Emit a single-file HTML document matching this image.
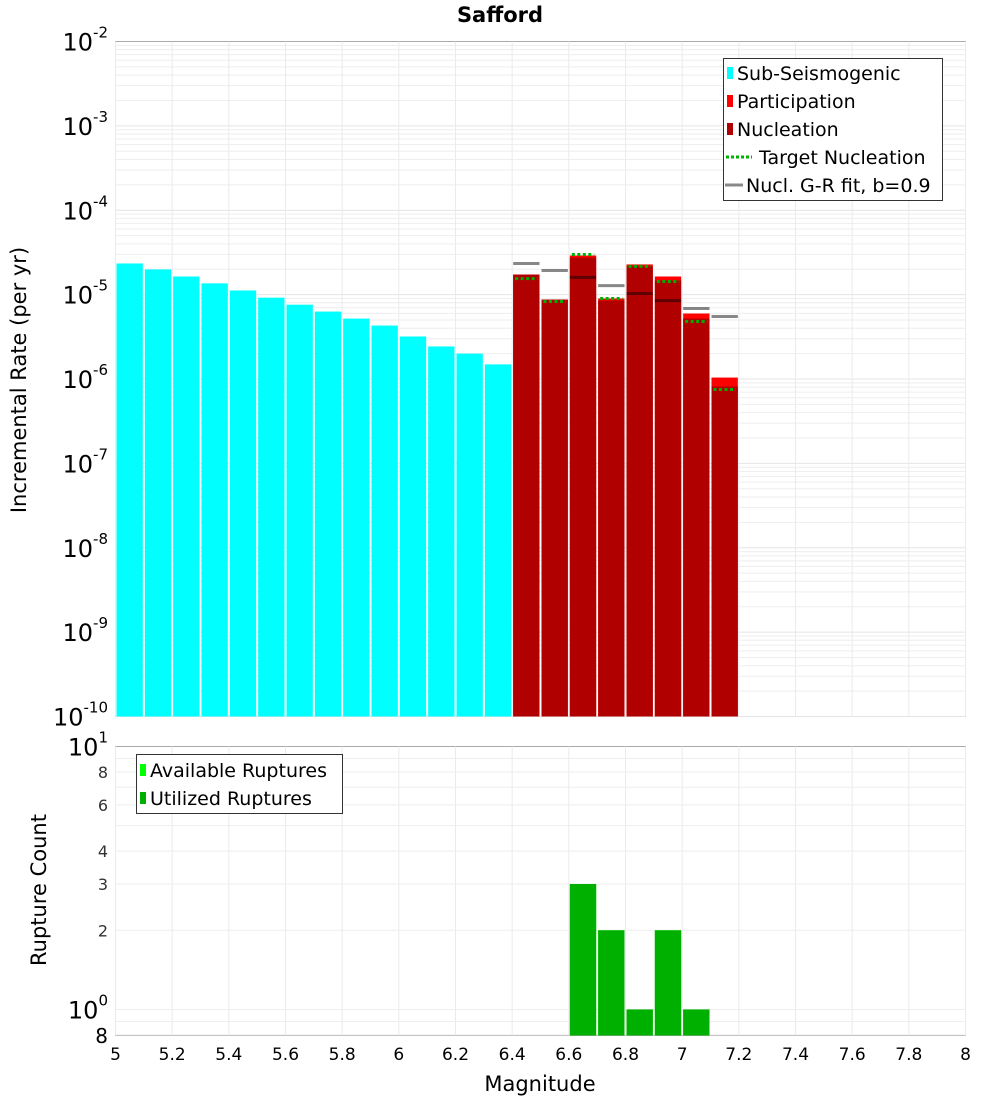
<!DOCTYPE html>
<html><head><meta charset="utf-8"><style>
html,body{margin:0;padding:0;background:#fff;}
svg{display:block;font-family:"DejaVu Sans","Liberation Sans",sans-serif;}
</style></head><body>
<svg id="chart" width="1000" height="1100" viewBox="0 0 1000 1100">
<text x="500" y="22" text-anchor="middle" font-size="21" font-weight="bold">Safford</text>
<text transform="translate(26,380) rotate(-90)" text-anchor="middle" font-size="21">Incremental Rate (per yr)</text>
<text transform="translate(46,890) rotate(-90)" text-anchor="middle" font-size="21">Rupture Count</text>
<text x="540" y="1091" text-anchor="middle" font-size="21">Magnitude</text>
<g id="gtop"></g><g id="gbot"></g>
<g>
<rect x="723.5" y="58.5" width="219" height="142" fill="#fff" stroke="#333"/>
<rect x="727" y="67" width="6" height="12" fill="#00ffff"/><text x="737" y="80" font-size="19">Sub-Seismogenic</text>
<rect x="727" y="95" width="6" height="12" fill="#ff0000"/><text x="737" y="108" font-size="19">Participation</text>
<rect x="727" y="123" width="6" height="12" fill="#b00000"/><text x="737" y="136" font-size="19">Nucleation</text>
<line x1="726" y1="157" x2="752" y2="157" stroke="#00b000" stroke-width="3" stroke-dasharray="3,2"/><text x="759" y="164" font-size="19">Target Nucleation</text>
<line x1="725" y1="185" x2="743" y2="185" stroke="#888" stroke-width="3"/><text x="746" y="192" font-size="19">Nucl. G-R fit, b=0.9</text>
</g>
<g>
<rect x="136.5" y="754.5" width="206" height="59" fill="#fff" stroke="#333"/>
<rect x="140" y="764" width="6" height="12" fill="#00ff00"/><text x="150" y="777" font-size="19">Available Ruptures</text>
<rect x="140" y="792" width="6" height="12" fill="#00b000"/><text x="150" y="805" font-size="19">Utilized Ruptures</text>
</g>
</svg>
<script>
const subMags=[5.05,5.15,5.25,5.35,5.45,5.55,5.65,5.75,5.85,5.95,6.05,6.15,6.25,6.35];
const subRates=[2.34e-5,1.99e-5,1.64e-5,1.36e-5,1.12e-5,9.2e-6,7.6e-6,6.3e-6,5.2e-6,4.3e-6,3.19e-6,2.43e-6,2.0e-6,1.49e-6];
const supMags=[6.45,6.55,6.65,6.75,6.85,6.95,7.05,7.15];
const partRates=[1.73e-5,8.75e-6,2.91e-5,9.0e-6,2.28e-5,1.64e-5,5.97e-6,1.04e-6];
const nuclRates=[1.73e-5,8.75e-6,2.75e-5,8.5e-6,2.16e-5,1.47e-5,5.2e-6,8.15e-7];
const targetRates=[1.55e-5,8.3e-6,2.99e-5,9.0e-6,2.16e-5,1.43e-5,4.8e-6,7.5e-7];
const grRates=[2.34e-5,1.93e-5,1.6e-5,1.28e-5,1.03e-5,8.5e-6,6.85e-6,5.5e-6];
const countMags=[6.65,6.75,6.85,6.95,7.05];
const availCounts=[3,2,1,2,1];
const usedCounts=[3,2,1,2,1];
const xTicks=["5","5.2","5.4","5.6","5.8","6","6.2","6.4","6.6","6.8","7","7.2","7.4","7.6","7.8","8"];
const yExps=[-2,-3,-4,-5,-6,-7,-8,-9,-10];
const botTicks=[2,3,4,6,8];

const NS="http://www.w3.org/2000/svg";
const L=115.5,R=965.5,T1=41.5,B1=716.5,T2=746.5,B2=1035.5;
const X=m=>L+(m-5)/3*(R-L);
const Y1=v=>T1+(-2-Math.log10(v))*(B1-T1)/8;
const Y2=v=>B2-(Math.log10(v)-Math.log10(0.796))*(B2-T2)/(1-Math.log10(0.796));
const gTop=document.getElementById('gtop'),gBot=document.getElementById('gbot');
function mk(p,tag,a){const e=document.createElementNS(NS,tag);for(const k in a)e.setAttribute(k,a[k]);p.appendChild(e);return e;}
mk(gTop,'rect',{x:L,y:T1,width:R-L,height:B1-T1,fill:'#fff',stroke:'#aaa'});
mk(gBot,'rect',{x:L,y:T2,width:R-L,height:B2-T2,fill:'#fff',stroke:'#aaa'});
for(let e=-10;e<-2;e++){for(let k=1;k<10;k++){const y=Y1(k*Math.pow(10,e));
const g=mk(gTop,'line',{x1:L,x2:R,y1:y,y2:y,stroke:k==1?'#e4e4e4':'#eeeeee','stroke-width':1});

}}
xTicks.forEach(t=>{const x=X(+t);
const g=mk(gTop,'line',{x1:x,x2:x,y1:T1,y2:B1,stroke:'#ebebeb'});


const g2=mk(gBot,'line',{x1:x,x2:x,y1:T2,y2:B2,stroke:'#ebebeb'});


const tx=mk(gBot,'text',{x:x,y:1060,'text-anchor':'middle','font-size':17});tx.textContent=t;

});
yExps.forEach(e=>{const y=Y1(Math.pow(10,e));
const t=mk(gTop,'text',{x:108,y:y+9,'text-anchor':'end','font-size':24});


t.innerHTML='10<tspan dy="-13" font-size="15">'+e+'</tspan>';});
[0.8,0.9,1,2,3,4,5,6,7,8,9].forEach(v=>{const y=Y2(v);
const g=mk(gBot,'line',{x1:L,x2:R,y1:y,y2:y,stroke:'#eeeeee'});

});
botTicks.forEach(v=>{const t=mk(gBot,'text',{x:108,y:Y2(v)+6,'text-anchor':'end','font-size':16,fill:'#333'});t.textContent=v;

});
[[1,"0"],[10,"1"]].forEach(([v,e])=>{const t=mk(gBot,'text',{x:108,y:Y2(v)+9,'text-anchor':'end','font-size':24});


t.innerHTML='10<tspan dy="-13" font-size="15">'+e+'</tspan>';});
const t8=mk(gBot,'text',{x:108,y:1043,'text-anchor':'end','font-size':20});t8.textContent='8';


const bw=(R-L)/30;
function bar(p,m,v,col,Y,B,name){const x0=X(m-0.05)+1,y=Y(v);
const r=mk(p,'rect',{x:x0,y:y,width:bw-2,height:B-y,fill:col});

}
subMags.forEach((m,i)=>bar(gTop,m,subRates[i],'#00ffff',Y1,B1,'bar-sub-seismogenic'));
supMags.forEach((m,i)=>bar(gTop,m,partRates[i],'#ff0000',Y1,B1,'bar-participation'));
supMags.forEach((m,i)=>bar(gTop,m,nuclRates[i],'#b00000',Y1,B1,'bar-nucleation'));
supMags.forEach((m,i)=>{const y=Y1(targetRates[i]);
const l=mk(gTop,'line',{x1:X(m-0.05)+3,x2:X(m+0.05)-3,y1:y,y2:y,stroke:'#00b000','stroke-width':3,'stroke-dasharray':'3,2.5'});

});
supMags.forEach((m,i)=>{const y=Y1(grRates[i]);
const l=mk(gTop,'line',{x1:X(m-0.05)+1,x2:X(m+0.05)-1,y1:y,y2:y,stroke:'#888','stroke-width':3,style:'mix-blend-mode:multiply'});

});
countMags.forEach((m,i)=>bar(gBot,m,availCounts[i],'#00ff00',Y2,B2,'bar-available-ruptures'));
countMags.forEach((m,i)=>bar(gBot,m,usedCounts[i],'#00b000',Y2,B2,'bar-utilized-ruptures'));
</script>
</body></html>
